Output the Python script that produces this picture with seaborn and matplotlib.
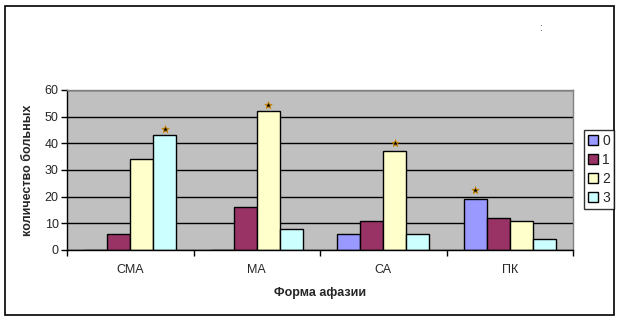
import matplotlib
matplotlib.use("Agg")
import matplotlib.pyplot as plt
import seaborn as sns
import pandas as pd
from matplotlib.patches import Rectangle

categories = ["СМА", "МА", "СА", "ПК"]
series = ["0", "1", "2", "3"]
values = {
    "0": [0, 0, 6, 19],
    "1": [6, 16, 11, 12],
    "2": [34, 52, 37, 11],
    "3": [43, 8, 6, 4],
}
star_series = ["3", "2", "2", "0"]
star_values = [45.5, 54.5, 40.0, 22.5]
colors = ["#9999FF", "#993366", "#FFFFCC", "#CCFFFF"]

rows = []
for s in series:
    for c, v in zip(categories, values[s]):
        rows.append({"cat": c, "series": s, "val": v})
df = pd.DataFrame(rows)

sns.set_theme(style="white")
plt.rcParams["font.family"] = ["Liberation Sans", "DejaVu Sans"]

fig = plt.figure(figsize=(6.2, 3.2), dpi=100)
ax = fig.add_axes([67 / 620, 70 / 320, 506 / 620, 160 / 320])
ax.set_facecolor("#C0C0C0")

sns.barplot(data=df, x="cat", y="val", hue="series", order=categories,
            hue_order=series, palette=colors, width=0.727, gap=0,
            edgecolor="black", linewidth=1, saturation=1, ax=ax, legend=False)

ax.set_ylim(0, 60)
ax.set_xlim(-0.5, 3.5)
ax.set_yticks(range(0, 61, 10))
ax.yaxis.grid(True, color="black", linewidth=1)
ax.set_axisbelow(True)

ax.set_xticks([-0.5, 0.5, 1.5, 2.5, 3.5])
ax.set_xticklabels([])
ax.set_xticks(range(len(categories)), minor=True)
ax.set_xticklabels(categories, minor=True)
ax.tick_params(axis="x", which="minor", length=0, pad=10, labelsize=9)
ax.tick_params(axis="x", which="major", length=4, width=1, color="black", direction="out")
ax.tick_params(axis="y", length=4, width=1, color="black", direction="out", labelsize=9, pad=2)
ax.tick_params(bottom=True, left=True)

for side in ["left", "bottom"]:
    ax.spines[side].set_color("black")
    ax.spines[side].set_linewidth(1)
for side in ["top", "right"]:
    ax.spines[side].set_color("#808080")
    ax.spines[side].set_linewidth(1)

ax.set_xlabel("Форма афазии", fontsize=9, fontweight="bold", labelpad=8)
ax.set_ylabel("количество больных", fontsize=9, fontweight="bold", labelpad=8)

# significance stars above bars
for s, yv, ci in zip(star_series, star_values, range(len(categories))):
    p = ax.containers[series.index(s)][ci]
    xc = p.get_x() + p.get_width() / 2
    ax.scatter([xc], [yv], marker="*", s=30, color="black",
               edgecolors="#CC8800", linewidths=0.6, zorder=5, clip_on=False)

# legend
handles = [Rectangle((0, 0), 1, 1, facecolor=col, edgecolor="black", linewidth=1)
           for col in colors]
leg = fig.legend(handles, series, loc="center left",
                 bbox_to_anchor=(584 / 620, 1 - 169.5 / 320),
                 frameon=True, fancybox=False, fontsize=10,
                 handlelength=0.7, handleheight=0.7, handletextpad=0.3,
                 borderpad=0.3, labelspacing=0.35, borderaxespad=0)
leg.get_frame().set_edgecolor("black")
leg.get_frame().set_linewidth(1)

fig.text(540 / 620, 1 - 28 / 320, ":", fontsize=7, ha="center", va="center")

# outer chart border
fig.patches.append(Rectangle((5 / 620, 5 / 320), 609 / 620, 309 / 320,
                             transform=fig.transFigure, fill=False,
                             edgecolor="black", linewidth=1.2))

fig.savefig("out.png", dpi=100)
